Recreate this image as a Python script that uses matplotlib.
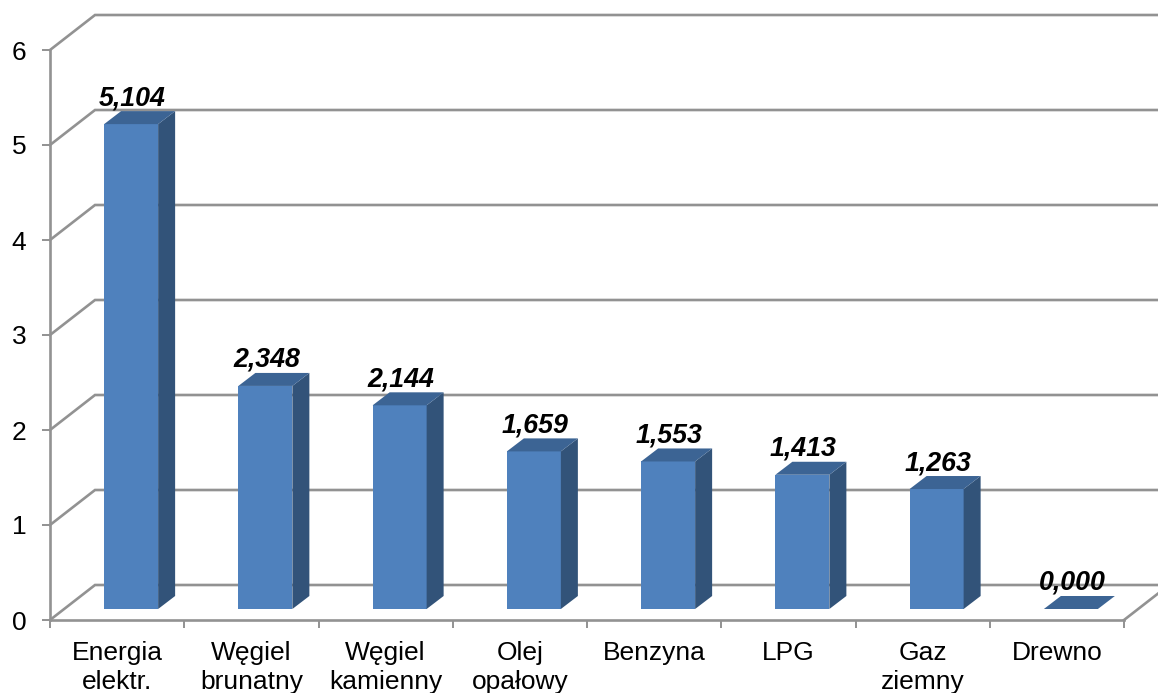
import matplotlib
matplotlib.use("Agg")
import matplotlib.pyplot as plt
from matplotlib.patches import Polygon

plt.rcParams['font.family'] = ['Liberation Sans', 'DejaVu Sans']

# data
categories = ["Energia\nelektr.", "Węgiel\nbrunatny", "Węgiel\nkamienny", "Olej\nopałowy",
              "Benzyna", "LPG", "Gaz\nziemny", "Drewno"]
values = [5.104, 2.348, 2.144, 1.659, 1.553, 1.413, 1.263, 0.000]
value_labels = ["5,104", "2,348", "2,144", "1,659", "1,553", "1,413", "1,263", "0,000"]
y_ticks = [0, 1, 2, 3, 4, 5, 6]

W, H = 1158, 693
GREY = "#929292"

fig = plt.figure(figsize=(W / 100, H / 100), dpi=100)
ax = fig.add_axes([50 / W, (H - 620) / H, 1074 / W, 570 / H])
ax.set_xlim(0, len(categories))
ax.set_ylim(0, 6)

# size of one pixel in data units, the fake 3d depth is set in pixels
px = len(categories) / 1074
py = 6 / 570
depth_x = 45 * px
depth_y = 35 * py

# back wall and side wall lines
n = len(categories)
for v in y_ticks:
    ax.plot([0, depth_x, n + 1], [v, v + depth_y, v + depth_y], color=GREY, lw=1.9,
            clip_on=False, zorder=1, solid_joinstyle="miter")
ax.plot([n, n + depth_x], [0, depth_y], color=GREY, lw=1.9, clip_on=False, zorder=1)

# bars
bar_w = 54 * px
bar_dx = 17 * px
bar_dy = 13 * py
x_off = 14 * px
y_off = 11 * py
for i, v in enumerate(values):
    left = i + 0.5 + x_off - bar_w / 2
    right = left + bar_w
    base = y_off
    top = y_off + v
    if v > 0:
        ax.add_patch(Polygon([(left, base), (right, base), (right, top), (left, top)],
                             facecolor="#4f81bd", edgecolor="none", clip_on=False, zorder=3))
        ax.add_patch(Polygon([(right, base), (right + bar_dx, base + bar_dy),
                              (right + bar_dx, top + bar_dy), (right, top)],
                             facecolor="#325379", edgecolor="none", clip_on=False, zorder=3))
    ax.add_patch(Polygon([(left, top), (right, top), (right + bar_dx, top + bar_dy),
                          (left + bar_dx, top + bar_dy)],
                         facecolor="#3c6494", edgecolor="none", clip_on=False, zorder=3))
    ax.text(left + bar_w / 2 + 1 * px, top + 26 * py, value_labels[i], ha="center", va="center",
            fontsize=19.3, fontweight="bold", fontstyle="italic", color="black", zorder=5,
            clip_on=False)

# axes
for s in ["top", "right"]:
    ax.spines[s].set_visible(False)
for s in ["left", "bottom"]:
    ax.spines[s].set_color(GREY)
    ax.spines[s].set_linewidth(1.9)
    ax.spines[s].set_zorder(2)

ax.set_yticks(y_ticks)
ax.set_xticks(range(n + 1))
ax.set_xticklabels([])
ax.tick_params(axis="both", color=GREY, width=1.4, length=6, labelsize=19, labelcolor="black")
ax.tick_params(axis="y", pad=11)

for i, c in enumerate(categories):
    ax.annotate(c, (i + 0.5, 0), xytext=(0, -15), xycoords="data", textcoords="offset points",
                ha="center", va="top", fontsize=19, linespacing=1.28, annotation_clip=False)

fig.savefig("out.png", dpi=100)
